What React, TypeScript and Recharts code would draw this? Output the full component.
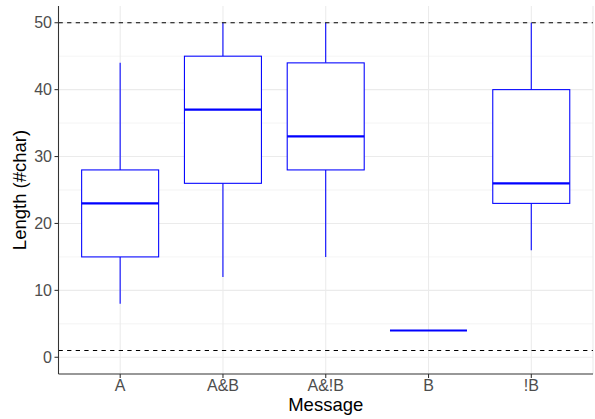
import React from 'react';
import { ComposedChart, Bar, XAxis, YAxis, CartesianGrid, ReferenceLine } from 'recharts';

// boxplot stats per message type
const categories = ['A', 'A&B', 'A&!B', 'B', '!B'];
const whiskerLow = [8, 12, 15, 4, 16];
const q1 = [15, 26, 28, 4, 23];
const medians = [23, 37, 33, 4, 26];
const q3 = [28, 45, 44, 4, 40];
const whiskerHigh = [44, 50, 50, 4, 50];

const cutoffs = [1, 50];
const yTicks = [0, 10, 20, 30, 40, 50];
const yMinorTicks = [5, 15, 25, 35, 45];

const data = categories.map((message, i) => ({
  message,
  range: [whiskerLow[i], whiskerHigh[i]],
  lo: whiskerLow[i],
  q1: q1[i],
  med: medians[i],
  q3: q3[i],
  hi: whiskerHigh[i],
}));

const FONT = '"Liberation Sans", Arial, Helvetica, sans-serif';
const BLUE = '#0000FF';

const BoxShape = (props: any) => {
  const { x, y, width, height, payload } = props;
  const top = Math.min(y, y + height);
  const h = Math.abs(height);
  const span = payload.hi - payload.lo;
  const toY = (v: number) => (span === 0 ? top : top + ((payload.hi - v) / span) * h);
  const cx = x + width / 2;
  const yQ1 = toY(payload.q1);
  const yQ3 = toY(payload.q3);
  const yMed = toY(payload.med);
  return (
    <g>
      <line x1={cx} x2={cx} y1={toY(payload.hi)} y2={yQ3} stroke={BLUE} strokeWidth={1.07} />
      <line x1={cx} x2={cx} y1={yQ1} y2={toY(payload.lo)} stroke={BLUE} strokeWidth={1.07} />
      {yQ1 !== yQ3 && (
        <rect x={x} y={yQ3} width={width} height={yQ1 - yQ3} fill="#FFFFFF" stroke={BLUE} strokeWidth={1.07} />
      )}
      <line x1={x} x2={x + width} y1={yMed} y2={yMed} stroke={BLUE} strokeWidth={2.2} />
    </g>
  );
};

const XTitle = (props: any) => {
  const { viewBox } = props;
  return (
    <text x={viewBox.x + viewBox.width / 2} y={viewBox.y + 37} textAnchor="middle" fontSize={18.5} fontFamily={FONT} fill="#000">
      Message
    </text>
  );
};

const YTitle = (props: any) => {
  const { viewBox } = props;
  const cx = 25.5;
  const cy = viewBox.y + viewBox.height / 2;
  return (
    <text x={cx} y={cy} transform={`rotate(-90, ${cx}, ${cy})`} textAnchor="middle" fontSize={18.5} fontFamily={FONT} fill="#000">
      Length (#char)
    </text>
  );
};

export default function App() {
  return (
    <div style={{ position: 'absolute', left: 0, top: 0, width: 595, height: 419, background: '#fff' }}>
      <ComposedChart
        width={595}
        height={419}
        data={data}
        margin={{ top: 6, right: 2, bottom: 15, left: 8.5 }}
        barCategoryGap="12.5%"
      >
        <CartesianGrid
          horizontalValues={yMinorTicks}
          vertical={false}
          stroke="#EBEBEB"
          strokeWidth={0.53}
          fill="#fff"
        />
        <CartesianGrid horizontalValues={yTicks} stroke="#EBEBEB" strokeWidth={1.07} />
        <XAxis
          dataKey="message"
          height={30}
          padding={{ left: 10.3, right: 10.3 }}
          tickSize={4}
          tickMargin={1.5}
          tickLine={{ stroke: '#333333', strokeWidth: 1.07 }}
          axisLine={{ stroke: '#333333', strokeWidth: 1.07 }}
          tick={{ fill: '#4D4D4D', fontSize: 16, fontFamily: FONT }}
          label={<XTitle />}
        />
        <XAxis
          xAxisId="top"
          orientation="top"
          dataKey="message"
          height={0}
          tick={false}
          tickLine={false}
          axisLine={{ stroke: '#333333', strokeWidth: 1.07 }}
        />
        <YAxis
          type="number"
          domain={[-2.5, 52.5]}
          ticks={yTicks}
          allowDataOverflow
          width={50}
          tickSize={4}
          tickMargin={2.5}
          tickLine={{ stroke: '#333333', strokeWidth: 1.07 }}
          axisLine={{ stroke: '#333333', strokeWidth: 1.07 }}
          tick={{ fill: '#4D4D4D', fontSize: 16, fontFamily: FONT }}
          label={<YTitle />}
        />
        <YAxis
          yAxisId="right"
          orientation="right"
          type="number"
          domain={[-2.5, 52.5]}
          width={0}
          tick={false}
          tickLine={false}
          axisLine={{ stroke: '#333333', strokeWidth: 1.07 }}
        />
        <Bar dataKey="range" shape={<BoxShape />} isAnimationActive={false} />
        {cutoffs.map((v) => (
          <ReferenceLine key={v} y={v} stroke="#000" strokeWidth={1.07} strokeDasharray="4.3 4.3" />
        ))}
      </ComposedChart>
    </div>
  );
}
